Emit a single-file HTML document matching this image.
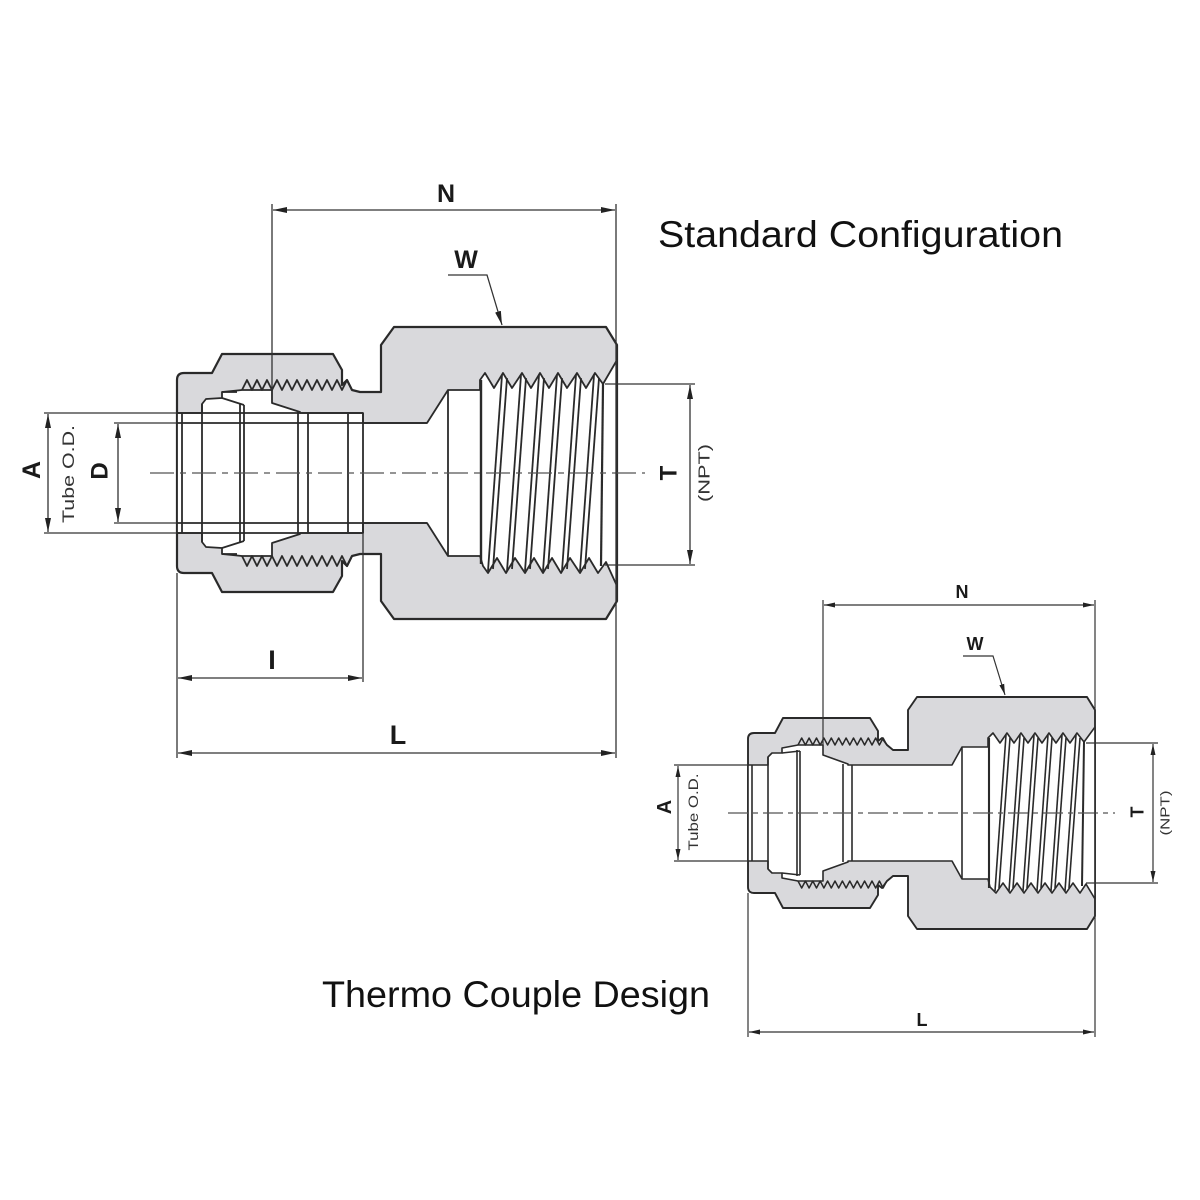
<!DOCTYPE html>
<html>
<head>
<meta charset="utf-8">
<style>
  html,body{margin:0;padding:0;background:#fff;}
  svg{display:block;}
  .lbl{font-family:"Liberation Sans",Arial,sans-serif;font-weight:bold;fill:#1a1a1a;}
  .sm{font-family:"Liberation Sans",Arial,sans-serif;fill:#333;}
  .title{font-family:"Liberation Sans",Arial,sans-serif;fill:#111;}
</style>
</head>
<body>
<svg width="1200" height="1200" viewBox="0 0 1200 1200" xmlns="http://www.w3.org/2000/svg">
<defs>
  <marker id="ar" markerUnits="userSpaceOnUse" markerWidth="14" markerHeight="7" refX="14" refY="3.5" orient="auto-start-reverse">
    <path d="M0,0.5 L14,3.5 L0,6.5 Z" fill="#222"/>
  </marker>
  <marker id="ars" markerUnits="userSpaceOnUse" markerWidth="11" markerHeight="6" refX="11" refY="3" orient="auto-start-reverse">
    <path d="M0,0.5 L11,3 L0,5.5 Z" fill="#222"/>
  </marker>
</defs>
<rect width="1200" height="1200" fill="#fff"/>

<!-- ================= TOP DRAWING ================= -->
<g stroke="#2a2a2a" stroke-linejoin="round">
  <!-- silhouette -->
  <path d="M177,380 Q177,373 184,373 L212,373 L222,354 L333,354 L342,370 L342,385 L347,380 L352,390 L360,392 L381,392 L381,345 L394,327 L606,327 L617,345 L617,601 L606,619 L394,619 L381,601 L381,554 L360,554 L352,556 L347,566 L342,561 L342,576 L333,592 L222,592 L212,573 L184,573 Q177,573 177,566 Z" fill="#d9d9dc" stroke-width="2.2"/>
  <!-- bore (white) -->
  <path d="M177,413 L202,413 L202,404 L206,399 L222,398 L222,392 L242,390 L272,390 L272,403 L300,412 L300,413 L363,413 L363,423 L427,423 L448,390 L480,390 L480,380 L485,373 L494,388 L503,373 L512,388 L522,373 L531,388 L540,373 L549,388 L558,373 L567,388 L577,373 L586,388 L595,373 L603,384 L617,360 L617,586 L606,562 L598,573 L589,558 L580,573 L570,558 L561,573 L552,558 L543,573 L534,558 L525,573 L515,558 L506,573 L497,558 L488,573 L483,566 L480,556 L448,556 L427,523 L363,523 L363,533 L300,533 L300,534 L272,543 L272,556 L242,556 L222,554 L222,548 L206,547 L202,542 L202,533 L177,533 Z" fill="#fff" stroke-width="1.8"/>
  <!-- nut threads -->
  <polyline fill="none" stroke-width="1.8" points="242,390 247,380 252,390 257,380 262,390 267,380 272,390 277,380 282,390 287,380 292,390 297,380 302,390 307,380 312,390 317,380 322,390 327,380 332,390 337,380 342,390 347,380 352,390"/>
  <polyline fill="none" stroke-width="1.8" points="242,556 247,566 252,556 257,566 262,556 267,566 272,556 277,566 282,556 287,566 292,556 297,566 302,556 307,566 312,556 317,566 322,556 327,566 332,556 337,566 342,556 347,566 352,556"/>
  <!-- tube / ferrule lines -->
  <g stroke-width="1.8" fill="none">
    <line x1="177" y1="413" x2="363" y2="413"/>
    <line x1="177" y1="533" x2="363" y2="533"/>
    <line x1="177" y1="423" x2="427" y2="423"/>
    <line x1="177" y1="523" x2="427" y2="523"/>
    <line x1="182" y1="413" x2="182" y2="533"/>
    <line x1="202" y1="404" x2="202" y2="542"/>
    <line x1="240" y1="403" x2="240" y2="543"/>
    <line x1="244" y1="405" x2="244" y2="541"/>
    <line x1="298" y1="412" x2="298" y2="534"/>
    <line x1="308" y1="413" x2="308" y2="533"/>
    <line x1="348" y1="414" x2="348" y2="532"/>
    <line x1="363" y1="413" x2="363" y2="533"/>
    <line x1="222" y1="398" x2="244" y2="405"/>
    <line x1="222" y1="548" x2="244" y2="541"/>
    <line x1="222" y1="392" x2="237" y2="392"/>
    <line x1="222" y1="554" x2="237" y2="554"/>
    <line x1="448" y1="390" x2="448" y2="556"/>
    <line x1="481" y1="380" x2="481" y2="564" stroke-width="2.4"/>
    <!-- threads slant lines -->
    <line x1="502" y1="375" x2="488" y2="571"/><line x1="507" y1="378" x2="493" y2="569"/>
    <line x1="521" y1="375" x2="507" y2="571"/><line x1="526" y1="378" x2="512" y2="569"/>
    <line x1="539" y1="375" x2="525" y2="571"/><line x1="544" y1="378" x2="530" y2="569"/>
    <line x1="557" y1="375" x2="543" y2="571"/><line x1="562" y1="378" x2="548" y2="569"/>
    <line x1="576" y1="375" x2="562" y2="571"/><line x1="581" y1="378" x2="567" y2="569"/>
    <line x1="594" y1="375" x2="580" y2="571"/><line x1="599" y1="378" x2="585" y2="569"/>
    <line x1="603" y1="384" x2="601" y2="566" stroke-width="2.2"/>
  </g>
</g>

<!-- top centerline -->
<line x1="150" y1="473" x2="645" y2="473" stroke="#555" stroke-width="1.3" stroke-dasharray="24 6 6 6"/>

<!-- top dimensions -->
<g stroke="#333" stroke-width="1.3" fill="none">
  <!-- N -->
  <line x1="272" y1="204" x2="272" y2="390"/>
  <line x1="616" y1="204" x2="616" y2="758"/>
  <line x1="273" y1="210" x2="615" y2="210" marker-start="url(#ar)" marker-end="url(#ar)"/>
  <!-- W leader -->
  <polyline points="448,275 487,275 502,325" marker-end="url(#ar)"/>
  <!-- A -->
  <line x1="44" y1="413" x2="177" y2="413"/>
  <line x1="44" y1="533" x2="177" y2="533"/>
  <line x1="48" y1="414" x2="48" y2="532" marker-start="url(#ar)" marker-end="url(#ar)"/>
  <!-- D -->
  <line x1="114" y1="423" x2="177" y2="423"/>
  <line x1="114" y1="523" x2="177" y2="523"/>
  <line x1="118" y1="424" x2="118" y2="522" marker-start="url(#ar)" marker-end="url(#ar)"/>
  <!-- T -->
  <line x1="605" y1="384" x2="695" y2="384"/>
  <line x1="605" y1="565" x2="695" y2="565"/>
  <line x1="690" y1="385" x2="690" y2="564" marker-start="url(#ar)" marker-end="url(#ar)"/>
  <!-- I -->
  <line x1="177" y1="573" x2="177" y2="758"/>
  <line x1="363" y1="533" x2="363" y2="682"/>
  <line x1="178" y1="678" x2="362" y2="678" marker-start="url(#ar)" marker-end="url(#ar)"/>
  <!-- L -->
  <line x1="178" y1="753" x2="615" y2="753" marker-start="url(#ar)" marker-end="url(#ar)"/>
</g>

<!-- top labels -->
<text class="lbl" x="446" y="202" font-size="25" text-anchor="middle">N</text>
<text class="lbl" x="466" y="268" font-size="25" text-anchor="middle">W</text>
<text class="lbl" x="272" y="669" font-size="27" text-anchor="middle">I</text>
<text class="lbl" x="398" y="744" font-size="27" text-anchor="middle">L</text>
<text class="lbl" font-size="25" text-anchor="middle" dy="0.35em" transform="translate(31,470) rotate(-90)">A</text>
<text class="sm" font-size="17" text-anchor="middle" dy="0.35em" textLength="98" lengthAdjust="spacingAndGlyphs" transform="translate(68,474) rotate(-90)">Tube O.D.</text>
<text class="lbl" font-size="24" text-anchor="middle" dy="0.35em" transform="translate(99,471) rotate(-90)">D</text>
<text class="lbl" font-size="24" text-anchor="middle" dy="0.35em" transform="translate(668,473) rotate(-90)">T</text>
<text class="sm" font-size="16" text-anchor="middle" dy="0.35em" textLength="58" lengthAdjust="spacingAndGlyphs" transform="translate(704,473) rotate(-90)">(NPT)</text>

<text class="title" x="658" y="247" font-size="37" textLength="405" lengthAdjust="spacingAndGlyphs">Standard Configuration</text>

<!-- ================= BOTTOM DRAWING ================= -->
<g stroke="#2a2a2a" stroke-linejoin="round">
  <path d="M748,739 Q748,733 754,733 L775,733 L783,718 L870,718 L878,731 L878,741 L882,738 L887,745 L893,750 L908,750 L908,710 L917,697 L1087,697 L1095,710 L1095,916 L1087,929 L917,929 L908,916 L908,876 L893,876 L887,881 L882,888 L878,885 L878,895 L870,908 L783,908 L775,893 L754,893 Q748,893 748,887 Z" fill="#d9d9dc" stroke-width="1.9"/>
  <path d="M748,765 L768,765 L768,757 L772,753 L782,753 L782,748 L798,745 L823,745 L823,755 L848,764 L848,765 L952,765 L962,747 L988,747 L988,738 L993,733 L1000,743 L1007,733 L1014,743 L1021,733 L1028,743 L1035,733 L1042,743 L1049,733 L1056,743 L1063,733 L1070,743 L1077,733 L1084,742 L1095,727 L1095,899 L1086,884 L1080,893 L1073,883 L1066,893 L1059,883 L1052,893 L1045,883 L1038,893 L1031,883 L1024,893 L1017,883 L1010,893 L1003,883 L996,893 L990,887 L988,879 L962,879 L952,861 L848,861 L848,862 L823,871 L823,881 L798,881 L782,878 L782,873 L772,873 L768,869 L768,861 L748,861 Z" fill="#fff" stroke-width="1.6"/>
  <polyline fill="none" stroke-width="1.5" points="798,745 801.7,738 805.4,745 809.1,738 812.8,745 816.5,738 820.2,745 823.9,738 827.6,745 831.3,738 835,745 838.7,738 842.4,745 846.1,738 849.8,745 853.5,738 857.2,745 860.9,738 864.6,745 868.3,738 872,745 875.7,738 879.4,745 883.1,738 886.8,745"/>
  <polyline fill="none" stroke-width="1.5" points="798,881 801.7,888 805.4,881 809.1,888 812.8,881 816.5,888 820.2,881 823.9,888 827.6,881 831.3,888 835,881 838.7,888 842.4,881 846.1,888 849.8,881 853.5,888 857.2,881 860.9,888 864.6,881 868.3,888 872,881 875.7,888 879.4,881 883.1,888 886.8,881"/>
  <g stroke-width="1.6" fill="none">
    <line x1="752" y1="765" x2="752" y2="861"/>
    <line x1="768" y1="757" x2="768" y2="869"/>
    <line x1="797" y1="750" x2="797" y2="876"/>
    <line x1="800" y1="751" x2="800" y2="875"/>
    <line x1="843" y1="764" x2="843" y2="862"/>
    <line x1="852" y1="765" x2="852" y2="861"/>
    <line x1="782" y1="753" x2="800" y2="751"/>
    <line x1="782" y1="873" x2="800" y2="875"/>
    <line x1="962" y1="747" x2="962" y2="879"/>
    <line x1="989" y1="738" x2="989" y2="888" stroke-width="2.1"/>
    <line x1="1006" y1="735" x2="995" y2="891"/><line x1="1010" y1="738" x2="999" y2="888"/>
    <line x1="1020" y1="735" x2="1009" y2="891"/><line x1="1024" y1="738" x2="1013" y2="888"/>
    <line x1="1034" y1="735" x2="1023" y2="891"/><line x1="1038" y1="738" x2="1027" y2="888"/>
    <line x1="1048" y1="735" x2="1037" y2="891"/><line x1="1052" y1="738" x2="1041" y2="888"/>
    <line x1="1062" y1="735" x2="1051" y2="891"/><line x1="1066" y1="738" x2="1055" y2="888"/>
    <line x1="1076" y1="735" x2="1065" y2="891"/><line x1="1080" y1="738" x2="1069" y2="888"/>
    <line x1="1084" y1="742" x2="1082" y2="886" stroke-width="2"/>
  </g>
</g>

<line x1="728" y1="813" x2="1115" y2="813" stroke="#555" stroke-width="1.2" stroke-dasharray="20 5 5 5"/>

<g stroke="#333" stroke-width="1.2" fill="none">
  <!-- N -->
  <line x1="823" y1="600" x2="823" y2="745"/>
  <line x1="1095" y1="600" x2="1095" y2="1037"/>
  <line x1="824" y1="605" x2="1094" y2="605" marker-start="url(#ars)" marker-end="url(#ars)"/>
  <!-- W leader -->
  <polyline points="963,656 993,656 1005,695" marker-end="url(#ars)"/>
  <!-- A -->
  <line x1="674" y1="765" x2="748" y2="765"/>
  <line x1="674" y1="861" x2="748" y2="861"/>
  <line x1="678" y1="766" x2="678" y2="860" marker-start="url(#ars)" marker-end="url(#ars)"/>
  <!-- T -->
  <line x1="1086" y1="743" x2="1158" y2="743"/>
  <line x1="1086" y1="883" x2="1158" y2="883"/>
  <line x1="1153" y1="744" x2="1153" y2="882" marker-start="url(#ars)" marker-end="url(#ars)"/>
  <!-- L -->
  <line x1="748" y1="893" x2="748" y2="1037"/>
  <line x1="749" y1="1032" x2="1094" y2="1032" marker-start="url(#ars)" marker-end="url(#ars)"/>
</g>

<text class="lbl" x="962" y="598" font-size="18" text-anchor="middle">N</text>
<text class="lbl" x="975" y="650" font-size="18" text-anchor="middle">W</text>
<text class="lbl" x="922" y="1026" font-size="18" text-anchor="middle">L</text>
<text class="lbl" font-size="20" text-anchor="middle" dy="0.35em" transform="translate(664,807) rotate(-90)">A</text>
<text class="sm" font-size="14" text-anchor="middle" dy="0.35em" textLength="77" lengthAdjust="spacingAndGlyphs" transform="translate(693,812) rotate(-90)">Tube O.D.</text>
<text class="lbl" font-size="18" text-anchor="middle" dy="0.35em" transform="translate(1137,812) rotate(-90)">T</text>
<text class="sm" font-size="13" text-anchor="middle" dy="0.35em" textLength="45" lengthAdjust="spacingAndGlyphs" transform="translate(1165,813) rotate(-90)">(NPT)</text>

<text class="title" x="322" y="1007" font-size="37" textLength="388" lengthAdjust="spacingAndGlyphs">Thermo Couple Design</text>
</svg>
</body>
</html>
